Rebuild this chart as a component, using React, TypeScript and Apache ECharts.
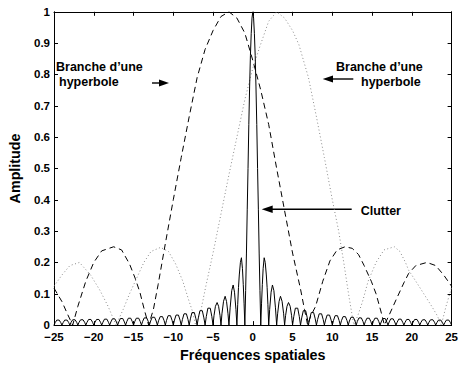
import React, { useEffect, useRef } from "react";
import * as echarts from "echarts";

const xTicks = [-25, -20, -15, -10, -5, 0, 5, 10, 15, 20, 25];
const yTicks = [0, 0.1, 0.2, 0.3, 0.4, 0.5, 0.6, 0.7, 0.8, 0.9, 1];

// Clutter (solid, narrow central lobe + small side lobes)
const clutter: number[][] = [
  [-25, 0],
  [-24.85, 0.008], [-24.65, 0.016], [-24.35, 0.016], [-24.15, 0.008], [-24, 0],
  [-23.85, 0.008], [-23.65, 0.016], [-23.35, 0.016], [-23.15, 0.008], [-23, 0],
  [-22.85, 0.009], [-22.65, 0.017], [-22.35, 0.017], [-22.15, 0.009], [-22, 0],
  [-21.85, 0.009], [-21.65, 0.017], [-21.35, 0.017], [-21.15, 0.009], [-21, 0],
  [-20.85, 0.009], [-20.65, 0.018], [-20.35, 0.018], [-20.15, 0.009], [-20, 0],
  [-19.85, 0.009], [-19.65, 0.018], [-19.35, 0.018], [-19.15, 0.009], [-19, 0],
  [-18.85, 0.009], [-18.65, 0.019], [-18.35, 0.019], [-18.15, 0.009], [-18, 0],
  [-17.85, 0.01], [-17.65, 0.02], [-17.35, 0.02], [-17.15, 0.01], [-17, 0],
  [-16.85, 0.01], [-16.65, 0.021], [-16.35, 0.021], [-16.15, 0.01], [-16, 0],
  [-15.85, 0.011], [-15.65, 0.022], [-15.35, 0.022], [-15.15, 0.011], [-15, 0],
  [-14.85, 0.011], [-14.65, 0.022], [-14.35, 0.022], [-14.15, 0.011], [-14, 0],
  [-13.85, 0.012], [-13.65, 0.023], [-13.35, 0.023], [-13.15, 0.012], [-13, 0],
  [-12.85, 0.013], [-12.65, 0.025], [-12.35, 0.025], [-12.15, 0.013], [-12, 0],
  [-11.85, 0.014], [-11.65, 0.027], [-11.35, 0.027], [-11.15, 0.014], [-11, 0],
  [-10.85, 0.015], [-10.65, 0.03], [-10.35, 0.03], [-10.15, 0.015], [-10, 0],
  [-9.85, 0.016], [-9.65, 0.032], [-9.35, 0.032], [-9.15, 0.016], [-9, 0],
  [-8.85, 0.018], [-8.65, 0.036], [-8.35, 0.036], [-8.15, 0.018], [-8, 0],
  [-7.85, 0.02], [-7.65, 0.04], [-7.35, 0.04], [-7.15, 0.02], [-7, 0],
  [-6.85, 0.023], [-6.65, 0.046], [-6.35, 0.046], [-6.15, 0.023], [-6, 0],
  [-5.85, 0.027], [-5.65, 0.054], [-5.35, 0.054], [-5.15, 0.027], [-5, 0],
  [-4.88, 0.03], [-4.7, 0.06], [-4.49, 0.072], [-4.3, 0.06], [-4.12, 0.03], [-4, 0],
  [-3.88, 0.036], [-3.68, 0.076], [-3.48, 0.092], [-3.3, 0.075], [-3.12, 0.036], [-3, 0],
  [-2.85, 0.055], [-2.65, 0.11], [-2.47, 0.128], [-2.3, 0.105], [-2.12, 0.05], [-2, 0],
  [-1.9, 0.065], [-1.8, 0.12], [-1.7, 0.16], [-1.56, 0.2], [-1.43, 0.215], [-1.3, 0.18], [-1.2, 0.13], [-1.1, 0.07], [-1, 0],
  [-0.9, 0.11], [-0.8, 0.23], [-0.7, 0.37], [-0.6, 0.5], [-0.5, 0.64], [-0.4, 0.76], [-0.3, 0.86], [-0.2, 0.93], [-0.1, 0.98],
  [0, 1],
  [0.1, 0.98], [0.2, 0.93], [0.3, 0.86], [0.4, 0.76], [0.5, 0.64], [0.6, 0.5], [0.7, 0.37], [0.8, 0.23], [0.9, 0.11],
  [1, 0], [1.1, 0.07], [1.2, 0.13], [1.3, 0.18], [1.43, 0.215], [1.56, 0.2], [1.7, 0.16], [1.8, 0.12], [1.9, 0.065],
  [2, 0], [2.12, 0.05], [2.3, 0.105], [2.47, 0.128], [2.65, 0.11], [2.85, 0.055],
  [3, 0], [3.12, 0.036], [3.3, 0.075], [3.48, 0.092], [3.68, 0.076], [3.88, 0.036],
  [4, 0], [4.12, 0.03], [4.3, 0.06], [4.49, 0.072], [4.7, 0.06], [4.88, 0.03],
  [5, 0], [5.15, 0.027], [5.35, 0.054], [5.65, 0.054], [5.85, 0.027],
  [6, 0], [6.15, 0.023], [6.35, 0.046], [6.65, 0.046], [6.85, 0.023],
  [7, 0], [7.15, 0.02], [7.35, 0.04], [7.65, 0.04], [7.85, 0.02],
  [8, 0], [8.15, 0.018], [8.35, 0.036], [8.65, 0.036], [8.85, 0.018],
  [9, 0], [9.15, 0.016], [9.35, 0.032], [9.65, 0.032], [9.85, 0.016],
  [10, 0], [10.15, 0.015], [10.35, 0.03], [10.65, 0.03], [10.85, 0.015],
  [11, 0], [11.15, 0.014], [11.35, 0.027], [11.65, 0.027], [11.85, 0.014],
  [12, 0], [12.15, 0.013], [12.35, 0.025], [12.65, 0.025], [12.85, 0.013],
  [13, 0], [13.15, 0.012], [13.35, 0.023], [13.65, 0.023], [13.85, 0.012],
  [14, 0], [14.15, 0.011], [14.35, 0.022], [14.65, 0.022], [14.85, 0.011],
  [15, 0], [15.15, 0.011], [15.35, 0.022], [15.65, 0.022], [15.85, 0.011],
  [16, 0], [16.15, 0.01], [16.35, 0.021], [16.65, 0.021], [16.85, 0.01],
  [17, 0], [17.15, 0.01], [17.35, 0.02], [17.65, 0.02], [17.85, 0.01],
  [18, 0], [18.15, 0.009], [18.35, 0.019], [18.65, 0.019], [18.85, 0.009],
  [19, 0], [19.15, 0.009], [19.35, 0.018], [19.65, 0.018], [19.85, 0.009],
  [20, 0], [20.15, 0.009], [20.35, 0.018], [20.65, 0.018], [20.85, 0.009],
  [21, 0], [21.15, 0.009], [21.35, 0.017], [21.65, 0.017], [21.85, 0.009],
  [22, 0], [22.15, 0.009], [22.35, 0.017], [22.65, 0.017], [22.85, 0.009],
  [23, 0], [23.15, 0.008], [23.35, 0.016], [23.65, 0.016], [23.85, 0.008],
  [24, 0], [24.15, 0.008], [24.35, 0.016], [24.65, 0.016], [24.85, 0.008],
  [25, 0],
];

// Left hyperbola branch (dashed)
const branchLeft: number[][] = [
  [-25, 0.118], [-24, 0.075], [-23.3, 0.035], [-22.65, 0],
  [-22, 0.06], [-21, 0.14], [-20, 0.2], [-19, 0.237], [-17.5, 0.25], [-16.5, 0.24],
  [-15.5, 0.195], [-14.8, 0.15], [-14.2, 0.105], [-13.6, 0.045], [-13.1, 0],
  [-12.5, 0.05], [-11.9, 0.13], [-11, 0.26], [-10, 0.4], [-9, 0.535], [-8, 0.665],
  [-7, 0.79], [-6, 0.88], [-5, 0.94], [-4, 0.985], [-3, 1], [-2, 0.98], [-1, 0.932],
  [0, 0.845], [1, 0.75], [2, 0.64], [3, 0.5], [4, 0.365], [5, 0.23], [6, 0.115],
  [6.5, 0.05], [6.9, 0],
  [7.3, 0.03], [7.9, 0.06], [8.8, 0.14], [9.7, 0.205], [10.6, 0.24], [11.6, 0.25],
  [12.5, 0.245], [13.3, 0.225], [14, 0.19], [14.9, 0.14], [15.5, 0.1], [16.1, 0.045], [16.55, 0],
  [17.2, 0.035], [18, 0.08], [19, 0.135], [19.6, 0.165], [20.5, 0.19], [21.9, 0.2],
  [23, 0.19], [24, 0.16], [25, 0.124],
];

// Right hyperbola branch (dotted)
const branchRight: number[][] = [
  [-25, 0.124], [-24, 0.16], [-23, 0.19], [-21.8, 0.2], [-20.4, 0.16], [-19.2, 0.11],
  [-18.2, 0.06], [-17.2, 0],
  [-16.3, 0.05], [-15.5, 0.1], [-14.6, 0.15], [-13.7, 0.2], [-12.8, 0.235], [-11.6, 0.248],
  [-10.6, 0.235], [-9.7, 0.195], [-8.8, 0.14], [-8, 0.075], [-7.6, 0.045], [-7.2, 0],
  [-6.5, 0.05], [-5.9, 0.125], [-5, 0.23], [-4, 0.355], [-3, 0.48], [-2, 0.6], [-1, 0.72],
  [0, 0.82], [0.9, 0.89], [2, 0.97], [3, 1], [4, 0.98], [5, 0.94], [5.8, 0.895],
  [7, 0.79], [8, 0.665], [9, 0.535], [10, 0.4], [10.8, 0.3], [11.5, 0.19], [12.1, 0.09], [12.7, 0],
  [13.2, 0.03], [13.8, 0.075], [14.5, 0.14], [15.5, 0.2], [16.5, 0.24], [17.8, 0.25],
  [18.5, 0.235], [19.2, 0.2], [19.6, 0.175], [20.5, 0.14], [21.5, 0.1], [22.5, 0.06],
  [23.2, 0.03], [23.7, 0], [24.3, 0.06], [25, 0.12],
];

const FONT = "'Liberation Sans', Arial, Helvetica, sans-serif";

export default function App() {
  const ref = useRef<HTMLDivElement>(null);
  useEffect(() => {
    if (!ref.current) return;
    const chart = echarts.init(ref.current, null, { renderer: "svg" });
    const axisLine = { show: true, onZero: false, lineStyle: { color: "#000", width: 1 } };
    const tick = { show: true, inside: true, length: 4, lineStyle: { color: "#000", width: 1 } };
    const labelStyle = { color: "#000", fontWeight: "bold" as const, fontSize: 11.5, fontFamily: FONT };
    const titleStyle = { color: "#000", fontWeight: "bold" as const, fontSize: 14.3, fontFamily: FONT };
    const annText = (text: string, x: number, y: number) => ({
      type: "text",
      x,
      y,
      style: {
        text,
        font: `bold 12.5px ${FONT}`,
        fill: "#000",
        textVerticalAlign: "middle",
        textAlign: "left",
      },
    });
    chart.setOption({
      animation: false,
      backgroundColor: "#fff",
      grid: { left: 49.3, right: 7.7, top: 11.8, bottom: 37.7, containLabel: false },
      xAxis: [
        {
          type: "value",
          min: -25,
          max: 25,
          interval: 5,
          position: "bottom",
          name: "Fréquences spatiales",
          nameLocation: "middle",
          nameGap: 21,
          nameTextStyle: titleStyle,
          axisLine,
          axisTick: tick,
          splitLine: { show: false },
          axisLabel: {
            ...labelStyle,
            margin: 6,
            formatter: (v: number) => {
              const s = xTicks.find((t) => Math.abs(t - v) < 1e-9);
              const val = s === undefined ? v : s;
              return val < 0 ? "\u2212" + Math.abs(val) : String(val);
            },
          },
        },
        {
          type: "value",
          min: -25,
          max: 25,
          interval: 5,
          position: "top",
          axisLine,
          axisTick: tick,
          splitLine: { show: false },
          axisLabel: { show: false },
        },
      ],
      yAxis: [
        {
          type: "value",
          min: 0,
          max: 1,
          interval: 0.1,
          position: "left",
          name: "Amplitude",
          nameLocation: "middle",
          nameGap: 32,
          nameTextStyle: titleStyle,
          axisLine,
          axisTick: tick,
          splitLine: { show: false },
          axisLabel: {
            ...labelStyle,
            margin: 4,
            formatter: (v: number) => {
              const s = yTicks.find((t) => Math.abs(t - v) < 1e-9);
              return String(s === undefined ? v : s);
            },
          },
        },
        {
          type: "value",
          min: 0,
          max: 1,
          interval: 0.1,
          position: "right",
          axisLine,
          axisTick: tick,
          splitLine: { show: false },
          axisLabel: { show: false },
        },
      ],
      series: [
        {
          type: "line",
          name: "branche gauche",
          data: branchLeft,
          xAxisIndex: 0,
          yAxisIndex: 0,
          showSymbol: false,
          symbol: "none",
          lineStyle: { color: "#000", width: 1, type: [6, 4] },
          z: 2,
        },
        {
          type: "line",
          name: "branche droite",
          data: branchRight,
          xAxisIndex: 0,
          yAxisIndex: 0,
          showSymbol: false,
          symbol: "none",
          lineStyle: { color: "#8a8a8a", width: 1, type: [1, 2.5] },
          z: 2,
        },
        {
          type: "line",
          name: "clutter",
          data: clutter,
          xAxisIndex: 0,
          yAxisIndex: 0,
          showSymbol: false,
          symbol: "none",
          lineStyle: { color: "#000", width: 1 },
          z: 3,
        },
      ],
      graphic: [
        annText("Branche d\u2019une", 56, 67),
        annText("hyperbole", 59, 82),
        annText("Branche d\u2019une", 336, 67),
        annText("hyperbole", 361, 82),
        annText("Clutter", 360.7, 210.5),
        { type: "line", shape: { x1: 152, y1: 83, x2: 161, y2: 83 }, style: { stroke: "#000", lineWidth: 1.4 } },
        { type: "polygon", shape: { points: [[169, 83], [159, 79.5], [159, 86.5]] }, style: { fill: "#000" } },
        { type: "line", shape: { x1: 330, y1: 79, x2: 353.3, y2: 79 }, style: { stroke: "#000", lineWidth: 1.4 } },
        { type: "polygon", shape: { points: [[322.7, 79], [333, 75.5], [333, 82.5]] }, style: { fill: "#000" } },
        { type: "line", shape: { x1: 270, y1: 209.3, x2: 351.7, y2: 209.3 }, style: { stroke: "#000", lineWidth: 1.4 } },
        { type: "polygon", shape: { points: [[261.7, 209.3], [272.7, 205.6], [272.7, 213]] }, style: { fill: "#000" } },
      ],
    });
    return () => chart.dispose();
  }, []);
  return (
    <div
      ref={ref}
      style={{ position: "fixed", left: 0, top: 0, width: 461, height: 367, background: "#fff" }}
    />
  );
}
